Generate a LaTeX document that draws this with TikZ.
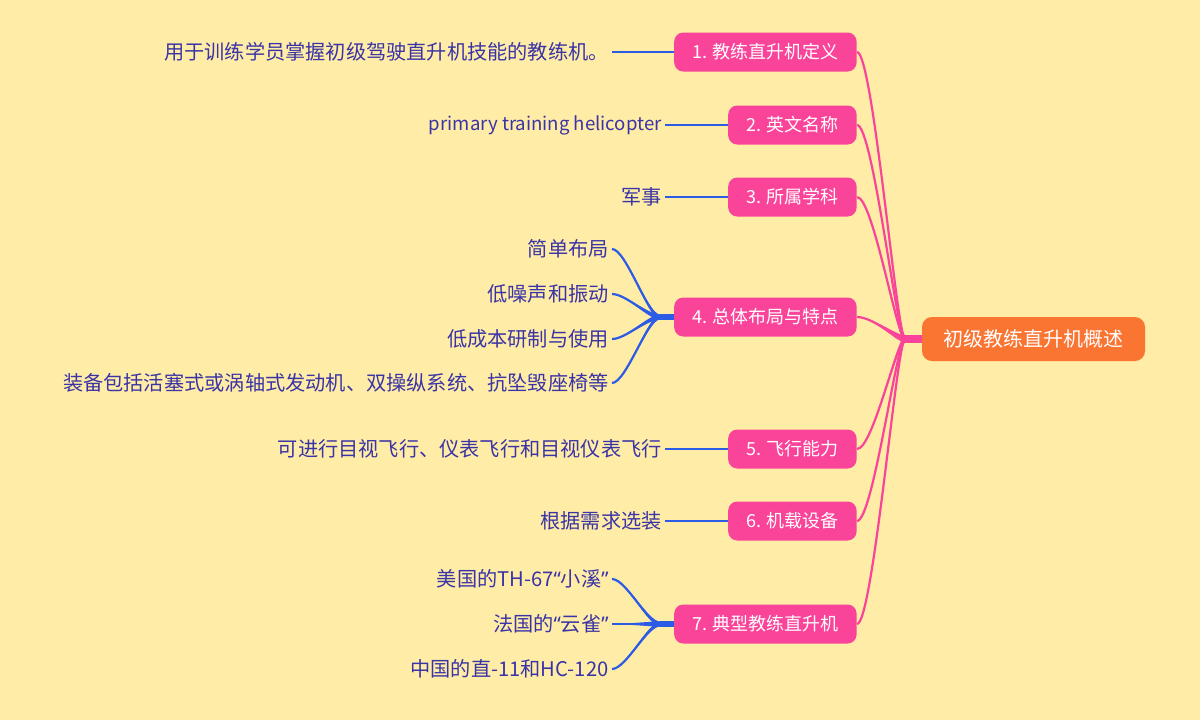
\documentclass[tikz,border=0pt]{standalone}
\usepackage{fontspec}
\setmainfont{Noto Sans CJK SC}
\newfontfamily\quotefont{Noto Sans}
\usetikzlibrary{calc}
\definecolor{paper}{HTML}{FFECA6}
\definecolor{mapOrange}{HTML}{FA7432}
\definecolor{mapPink}{HTML}{F9449A}
\definecolor{linkBlue}{HTML}{2C5CE6}
\definecolor{leafInk}{HTML}{3A34A6}

\newcommand{\openq}{{\quotefont “}}
\newcommand{\closeq}{{\quotefont ”}}

\tikzset{
  rootbox/.style={fill=mapOrange, text=white, rounded corners=5pt,
    minimum width=111.5pt, minimum height=22pt, font=\fontsize{10}{12}\selectfont},
  topicbox/.style={fill=mapPink, text=white, rounded corners=4.5pt, anchor=east,
    minimum height=19.5pt, inner xsep=9pt, font=\fontsize{9}{11}\selectfont},
  leaf/.style={text=leafInk, inner sep=1.5pt, anchor=east,
    font=\fontsize{10.1}{12}\selectfont},
}

% curva que engorda hacia la horquilla: desde, hasta, color, semigrosor, tirones
\newcommand{\branchcurve}[6]{%
  \fill[#3] (#1) .. controls ($(#1)+(#5,0)$) and ($(#2)+(-#6,-#4)$) .. ($(#2)+(0,-#4)$)
    -- ($(#2)+(0,#4)$) .. controls ($(#2)+(-#6,#4)$) and ($(#1)+(#5,0)$) .. (#1) -- cycle;
  \draw[#3, line width=1.1pt] (#1) .. controls ($(#1)+(#5,0)$) and ($(#2)+(-#6,0)$) .. (#2);}

\begin{document}
\begin{tikzpicture}[x=0.5pt, y=-0.5pt]
  \fill[paper] (0,0) rectangle (1200,720);
  \useasboundingbox (0,0) rectangle (1200,720);

  % raiz
  \node[rootbox] (root) at (1033.5,339) {初级教练直升机概述};

  % ramas
  \node[topicbox] (b1) at (857,52)  {1. 教练直升机定义};
  \node[topicbox] (b2) at (857,125) {2. 英文名称};
  \node[topicbox] (b3) at (857,197) {3. 所属学科};
  \node[topicbox] (b4) at (857,317) {4. 总体布局与特点};
  \node[topicbox] (b5) at (857,449) {5. 飞行能力};
  \node[topicbox] (b6) at (857,521) {6. 机载设备};
  \node[topicbox] (b7) at (857,624) {7. 典型教练直升机};

  % hojas
  \node[leaf] (l1)  at (612,52)  {用于训练学员掌握初级驾驶直升机技能的教练机。};
  \node[leaf, font=\fontsize{9.3}{12}\selectfont] (l2) at (665,125) {primary training helicopter};
  \node[leaf] (l3)  at (665,197) {军事};
  \node[leaf] (l4a) at (612,249) {简单布局};
  \node[leaf] (l4b) at (612,294) {低噪声和振动};
  \node[leaf] (l4c) at (612,339) {低成本研制与使用};
  \node[leaf] (l4d) at (612,383) {装备包括活塞式或涡轴式发动机、双操纵系统、抗坠毁座椅等};
  \node[leaf] (l5)  at (665,449) {可进行目视飞行、仪表飞行和目视仪表飞行};
  \node[leaf] (l6)  at (665,521) {根据需求选装};
  \node[leaf] (l7a) at (612,579) {美国的TH-67\openq 小溪\closeq};
  \node[leaf] (l7b) at (612,624) {法国的\openq 云雀\closeq};
  \node[leaf] (l7c) at (612,669) {中国的直-11和HC-120};

  % horquillas
  \coordinate (rfork) at (905,339);
  \coordinate (f4) at (660,317);
  \coordinate (f7) at (660,624);

  % conectores rosas
  \foreach \b in {b1,b2,b3,b4,b5,b6,b7}
    \branchcurve{\b.east}{rfork}{mapPink}{3.5}{16}{8};
  \draw[mapPink, line width=4pt] (rfork) -- (root.west);

  % conectores azules
  \foreach \l in {l4a,l4b,l4c,l4d}
    \branchcurve{\l.east}{f4}{linkBlue}{2.5}{14}{12};
  \foreach \l in {l7a,l7b,l7c}
    \branchcurve{\l.east}{f7}{linkBlue}{2.5}{14}{12};
  \draw[linkBlue, line width=2.75pt] (f4) -- (b4.west);
  \draw[linkBlue, line width=2.75pt] (f7) -- (b7.west);
  \draw[linkBlue, line width=1.4pt] (l1.east) -- (b1.west);
  \draw[linkBlue, line width=1.4pt] (l2.east) -- (b2.west);
  \draw[linkBlue, line width=1.4pt] (l3.east) -- (b3.west);
  \draw[linkBlue, line width=1.4pt] (l5.east) -- (b5.west);
  \draw[linkBlue, line width=1.4pt] (l6.east) -- (b6.west);
\end{tikzpicture}
\end{document}
